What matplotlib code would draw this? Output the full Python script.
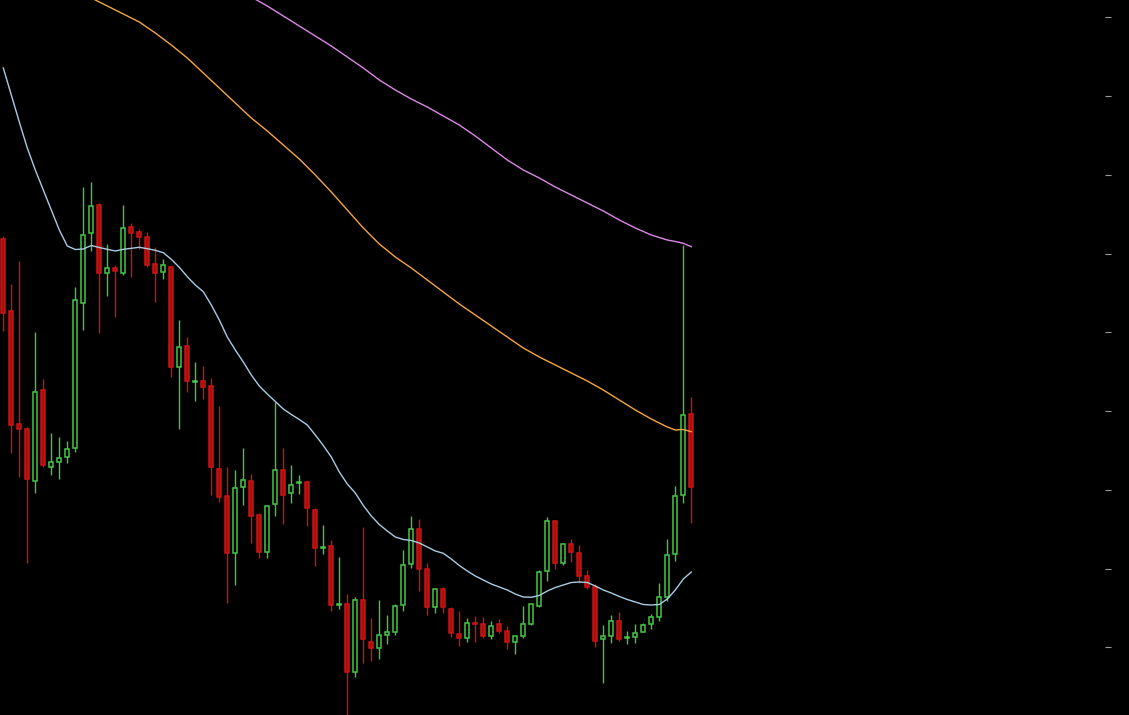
import numpy as np
import matplotlib
matplotlib.use("Agg")
import matplotlib.pyplot as plt

# Candle data (open, high, low, close), one entry per bar
opens = [4.61, 3.89, 2.76, 2.71, 2.19, 3.10, 2.33, 2.38, 2.43, 2.52,
         3.97, 4.67, 4.95, 4.27, 4.32, 4.27, 4.73, 4.68, 4.63, 4.36,
         4.28, 4.33, 3.33, 3.54, 3.18, 3.19, 3.14, 2.31, 2.04, 1.47,
         2.13, 2.19, 1.85, 1.48, 1.96, 2.30, 2.07, 2.17, 2.18, 1.90,
         1.52, 1.54, 0.95, 0.96, 0.28, 1.00, 0.58, 0.52, 0.65, 0.68,
         0.95, 1.36, 1.71, 1.31, 0.93, 1.11, 0.91, 0.66, 0.62, 0.77,
         0.76, 0.64, 0.76, 0.69, 0.58, 0.64, 0.76, 0.94, 1.29, 1.79,
         1.37, 1.56, 1.47, 1.24, 1.13, 0.61, 0.64, 0.79, 0.62, 0.63,
         0.68, 0.76, 0.83, 1.03, 1.46, 2.05, 2.86]
highs = [4.64, 4.16, 4.39, 2.73, 3.68, 3.21, 2.67, 2.63, 2.59, 4.13,
         5.13, 5.18, 4.97, 4.56, 4.35, 4.95, 4.77, 4.71, 4.68, 4.53,
         4.41, 4.34, 3.80, 3.63, 3.38, 3.34, 3.22, 2.94, 2.33, 2.30,
         2.52, 2.26, 1.87, 1.94, 2.98, 2.52, 2.35, 2.25, 2.19, 1.92,
         1.75, 1.60, 1.43, 1.06, 1.03, 1.73, 0.82, 1.00, 0.85, 0.96,
         1.50, 1.84, 1.81, 1.37, 1.12, 1.13, 0.93, 0.89, 0.82, 0.84,
         0.83, 0.79, 0.81, 0.74, 0.64, 0.94, 0.96, 1.30, 1.83, 1.80,
         1.57, 1.61, 1.55, 1.30, 1.16, 0.75, 0.85, 0.88, 0.69, 0.76,
         0.77, 0.86, 1.17, 1.61, 2.14, 4.55, 3.03]
lows = [3.69, 2.47, 2.23, 1.37, 2.07, 2.33, 2.25, 2.21, 2.37, 2.48,
        3.70, 4.49, 3.67, 4.04, 3.83, 4.25, 4.23, 4.51, 4.33, 3.98,
        4.21, 3.23, 2.71, 3.08, 2.99, 3.01, 2.05, 1.98, 0.97, 1.15,
        1.95, 1.57, 1.42, 1.42, 1.84, 1.76, 1.97, 2.06, 1.74, 1.34,
        1.46, 0.89, 0.91, -0.18, 0.23, 0.37, 0.39, 0.41, 0.56, 0.65,
        0.89, 1.32, 1.09, 0.85, 0.87, 0.87, 0.63, 0.54, 0.58, 0.58,
        0.62, 0.61, 0.67, 0.51, 0.46, 0.62, 0.75, 0.93, 1.19, 1.31,
        1.35, 1.38, 1.17, 1.11, 0.53, 0.17, 0.57, 0.59, 0.56, 0.57,
        0.68, 0.71, 0.79, 0.99, 1.39, 1.97, 1.77]
closes = [3.87, 2.75, 2.71, 2.21, 3.08, 2.35, 2.38, 2.42, 2.51, 4.00,
          4.65, 4.94, 4.27, 4.32, 4.29, 4.72, 4.67, 4.63, 4.35, 4.27,
          4.35, 3.33, 3.53, 3.19, 3.19, 3.13, 2.33, 2.03, 1.47, 2.12,
          2.20, 1.84, 1.48, 1.94, 2.30, 2.05, 2.15, 2.18, 1.92, 1.52,
          1.53, 0.95, 0.96, 0.28, 1.00, 0.61, 0.52, 0.65, 0.68, 0.94,
          1.35, 1.71, 1.31, 0.93, 1.11, 0.93, 0.67, 0.62, 0.77, 0.76,
          0.64, 0.74, 0.69, 0.58, 0.64, 0.76, 0.96, 1.28, 1.79, 1.37,
          1.56, 1.48, 1.24, 1.13, 0.59, 0.64, 0.79, 0.61, 0.63, 0.67,
          0.75, 0.83, 1.03, 1.45, 2.04, 2.85, 2.13]

# Short moving average, one value per bar
ma_fast = [6.32, 6.05, 5.78, 5.52, 5.30, 5.10, 4.90, 4.70, 4.54, 4.505,
           4.51, 4.545, 4.525, 4.507, 4.49, 4.507, 4.517, 4.527, 4.513, 4.497,
           4.473, 4.407, 4.327, 4.233, 4.15, 4.083, 3.95, 3.80, 3.63, 3.50,
           3.38, 3.25, 3.14, 3.06, 2.985, 2.91, 2.855, 2.805, 2.75, 2.65,
           2.545, 2.43, 2.28, 2.16, 2.07, 1.945, 1.84, 1.755, 1.69, 1.63,
           1.605, 1.595, 1.57, 1.53, 1.49, 1.467, 1.41, 1.345, 1.29, 1.24,
           1.20, 1.16, 1.13, 1.10, 1.06, 1.03, 1.027, 1.045, 1.09, 1.125,
           1.15, 1.175, 1.18, 1.175, 1.14, 1.10, 1.07, 1.035, 1.005, 0.98,
           0.955, 0.95, 0.955, 1.01, 1.10, 1.21, 1.28]

# Medium and long moving averages, read every other bar
ma_mid_idx = [11, 13, 15, 17, 19, 21, 23, 25, 27, 29, 31, 33, 35, 37, 39, 41, 43,
              45, 47, 49, 51, 53, 55, 57, 59, 61, 63, 65, 67, 69, 71, 73, 75, 77,
              79, 81, 83, 84, 85, 86]
ma_mid = [7.02, 6.94, 6.86, 6.78, 6.67, 6.55, 6.42, 6.27, 6.12, 5.97, 5.82,
          5.69, 5.55, 5.41, 5.25, 5.08, 4.90, 4.72, 4.56, 4.43, 4.32, 4.20,
          4.08, 3.96, 3.85, 3.74, 3.63, 3.52, 3.43, 3.35, 3.27, 3.19, 3.10,
          3.00, 2.90, 2.81, 2.73, 2.70, 2.705, 2.683]
ma_slow_idx = [31, 33, 35, 37, 39, 41, 43, 45, 47, 49, 51, 53, 55, 57, 59, 61,
               63, 65, 67, 69, 71, 73, 75, 77, 79, 81, 83, 84, 85, 86]
ma_slow = [7.03, 6.94, 6.84, 6.74, 6.64, 6.54, 6.43, 6.32, 6.20, 6.10, 6.01,
           5.93, 5.84, 5.75, 5.64, 5.52, 5.40, 5.30, 5.22, 5.13, 5.05, 4.97,
           4.89, 4.80, 4.72, 4.65, 4.60, 4.585, 4.567, 4.533]

price_ticks = [0.53, 1.31, 2.10, 2.89, 3.68, 4.46, 5.25, 6.04, 6.83]

UP = "#44c844"
DOWN = "#a80f0f"
DOWN_EDGE = "#cc1414"

fig = plt.figure(figsize=(11.29, 7.15), dpi=100, facecolor="black")
ax = fig.add_axes([0, 0, 1111 / 1129, 1])
ax.set_facecolor("black")

o = np.array(opens)
h = np.array(highs)
l = np.array(lows)
c = np.array(closes)
x = np.arange(len(o))
up = c >= o

# wicks
ax.vlines(x[up], l[up], h[up], color=UP, linewidth=1, zorder=2)
ax.vlines(x[~up], l[~up], h[~up], color=DOWN_EDGE, linewidth=1, zorder=2)

# bodies (up = hollow, down = filled)
body_w = 0.52
ax.bar(x[up], np.maximum(c[up] - o[up], 0.004), bottom=o[up], width=body_w,
       facecolor="black", edgecolor=UP, linewidth=1.1, zorder=3)
ax.bar(x[~up], np.maximum(o[~up] - c[~up], 0.004), bottom=c[~up], width=body_w,
       facecolor=DOWN, edgecolor=DOWN_EDGE, linewidth=1.1, zorder=3)

# moving averages
ax.plot(x, ma_fast, color="#a8cce4", linewidth=1, zorder=4)
ax.plot(ma_mid_idx, ma_mid, color="#f5a640", linewidth=1, zorder=4)
ax.plot(ma_slow_idx, ma_slow, color="#dd88e6", linewidth=1, zorder=4)

ax.set_xlim(-0.4125, 138.46)
ax.set_ylim(-0.15, 7.0)

for s in ax.spines.values():
    s.set_visible(False)
ax.set_xticks([])
ax.yaxis.tick_right()
ax.set_yticks(price_ticks)
ax.set_yticklabels([])
ax.tick_params(axis="y", direction="in", length=4.5, width=0.8, colors="#9a9a9a")

fig.savefig("out.png", dpi=100, facecolor="black")
